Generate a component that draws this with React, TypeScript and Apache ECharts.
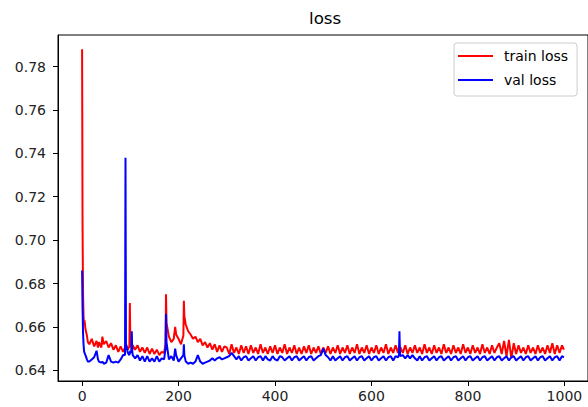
import React, { useEffect, useRef } from "react";
import * as echarts from "echarts";

const epochs = [
  0, 1, 2, 3, 4, 5, 7, 10, 12, 15,
  20, 25, 30, 33, 35, 40, 42, 45, 50, 55,
  60, 65, 70, 75, 80, 85, 89, 90, 91, 95,
  98, 99, 100, 102, 103, 104, 105, 110, 115, 120,
  125, 130, 135, 140, 145, 150, 155, 160, 165, 170,
  173, 174, 175, 180, 185, 190, 193, 195, 200, 205,
  210, 211, 212, 215, 220, 225, 230, 235, 240, 245,
  250, 255, 260, 265, 270, 275, 280, 285, 290, 295,
  300, 305, 310, 315, 320, 325, 330, 335, 340, 345,
  350, 355, 360, 365, 370, 375, 380, 385, 390, 395,
  400, 405, 410, 415, 420, 425, 430, 435, 440, 445,
  450, 455, 460, 465, 470, 475, 480, 485, 490, 495,
  500, 505, 510, 515, 520, 525, 530, 535, 540, 545,
  550, 555, 560, 565, 570, 575, 580, 585, 590, 595,
  600, 605, 610, 615, 620, 625, 630, 635, 640, 645,
  650, 655, 657, 658, 659, 660, 665, 670, 675, 680,
  685, 690, 695, 700, 705, 710, 715, 720, 725, 730,
  735, 740, 745, 750, 755, 760, 765, 770, 775, 780,
  785, 790, 795, 800, 805, 810, 815, 820, 825, 830,
  835, 840, 845, 850, 855, 860, 865, 870, 875, 880,
  885, 890, 895, 900, 905, 910, 915, 920, 925, 930,
  935, 940, 945, 950, 955, 960, 965, 970, 975, 980,
  985, 990, 995, 999,
];

const trainLoss = [
  0.788, 0.705, 0.675, 0.665, 0.661, 0.663, 0.659, 0.656, 0.653, 0.652,
  0.6545, 0.651, 0.6535, 0.6505, 0.653, 0.6505, 0.6555, 0.652, 0.6535, 0.6505,
  0.6525, 0.6495, 0.6515, 0.6485, 0.651, 0.6485, 0.6505, 0.651, 0.652, 0.6495,
  0.651, 0.671, 0.654, 0.6505, 0.652, 0.6495, 0.6515, 0.6495, 0.6515, 0.6485,
  0.6505, 0.648, 0.6505, 0.6475, 0.65, 0.6475, 0.6495, 0.647, 0.6485, 0.648,
  0.652, 0.675, 0.662, 0.6555, 0.653, 0.6545, 0.66, 0.6565, 0.6545, 0.652,
  0.656, 0.672, 0.665, 0.661, 0.658, 0.6565, 0.6545, 0.6555, 0.653, 0.6545,
  0.6515, 0.653, 0.6505, 0.6525, 0.6495, 0.652, 0.6485, 0.6515, 0.6485, 0.651,
  0.6505, 0.6475, 0.652, 0.648, 0.6505, 0.6475, 0.6515, 0.648, 0.651, 0.6475,
  0.6515, 0.648, 0.6505, 0.6475, 0.652, 0.648, 0.6505, 0.6475, 0.651, 0.648,
  0.6515, 0.6475, 0.6505, 0.648, 0.652, 0.6475, 0.6505, 0.648, 0.6515, 0.6475,
  0.6505, 0.6475, 0.651, 0.648, 0.6515, 0.6475, 0.6505, 0.648, 0.651, 0.6475,
  0.6505, 0.648, 0.651, 0.6475, 0.6505, 0.648, 0.6515, 0.6475, 0.6505, 0.648,
  0.6515, 0.6475, 0.6505, 0.648, 0.652, 0.6475, 0.6505, 0.648, 0.6515, 0.6475,
  0.6505, 0.648, 0.6515, 0.6475, 0.6505, 0.648, 0.652, 0.6475, 0.6505, 0.648,
  0.6515, 0.648, 0.6505, 0.6515, 0.648, 0.6505, 0.648, 0.6515, 0.6475, 0.6505,
  0.648, 0.6515, 0.648, 0.6505, 0.6475, 0.652, 0.648, 0.6505, 0.6475, 0.6515,
  0.648, 0.6505, 0.6475, 0.652, 0.648, 0.6505, 0.6475, 0.6515, 0.648, 0.6505,
  0.6475, 0.652, 0.648, 0.6505, 0.6475, 0.6515, 0.648, 0.6505, 0.6475, 0.652,
  0.648, 0.6505, 0.6475, 0.6515, 0.648, 0.6505, 0.6525, 0.6475, 0.6535, 0.6465,
  0.654, 0.6455, 0.6525, 0.6475, 0.6515, 0.648, 0.6505, 0.6475, 0.6515, 0.648,
  0.6505, 0.6475, 0.6515, 0.648, 0.6505, 0.6475, 0.6515, 0.648, 0.6525, 0.6475,
  0.6515, 0.648, 0.6515, 0.6495,
];

const valLoss = [
  0.686, 0.668, 0.657, 0.652, 0.649, 0.648, 0.647, 0.645, 0.644, 0.644,
  0.645, 0.646, 0.649, 0.645, 0.644, 0.6435, 0.644, 0.643, 0.6435, 0.647,
  0.644, 0.6435, 0.644, 0.6435, 0.645, 0.647, 0.647, 0.738, 0.652, 0.648,
  0.647, 0.648, 0.649, 0.648, 0.658, 0.649, 0.647, 0.6455, 0.647, 0.6445,
  0.6465, 0.644, 0.6465, 0.644, 0.6455, 0.644, 0.6465, 0.644, 0.6455, 0.645,
  0.65, 0.666, 0.653, 0.645, 0.6465, 0.6445, 0.65, 0.647, 0.644, 0.6455,
  0.647, 0.652, 0.647, 0.644, 0.643, 0.6435, 0.643, 0.644, 0.647, 0.644,
  0.643, 0.6435, 0.644, 0.6445, 0.6455, 0.6445, 0.6455, 0.646, 0.645, 0.6455,
  0.646, 0.6465, 0.648, 0.6465, 0.645, 0.6465, 0.6445, 0.646, 0.6465, 0.6445,
  0.6455, 0.6465, 0.6445, 0.646, 0.6465, 0.6445, 0.6465, 0.645, 0.6445, 0.6465,
  0.645, 0.6445, 0.6465, 0.646, 0.6445, 0.6455, 0.6465, 0.6445, 0.646, 0.6465,
  0.6445, 0.6455, 0.6465, 0.6445, 0.646, 0.6465, 0.6445, 0.6455, 0.6465, 0.647,
  0.65, 0.647, 0.646, 0.6445, 0.6465, 0.6445, 0.6455, 0.6465, 0.6445, 0.646,
  0.6465, 0.6445, 0.6455, 0.6465, 0.6445, 0.646, 0.6465, 0.6445, 0.6455, 0.6465,
  0.6445, 0.646, 0.6465, 0.6445, 0.6455, 0.6465, 0.6445, 0.646, 0.6465, 0.6445,
  0.6465, 0.646, 0.647, 0.658, 0.648, 0.6465, 0.647, 0.6455, 0.647, 0.6455,
  0.647, 0.6455, 0.6445, 0.6465, 0.6445, 0.646, 0.6465, 0.6445, 0.6455, 0.6465,
  0.6445, 0.646, 0.6465, 0.6445, 0.6455, 0.6465, 0.6445, 0.646, 0.6465, 0.6445,
  0.6455, 0.6465, 0.6445, 0.646, 0.6465, 0.6445, 0.6455, 0.6465, 0.6445, 0.646,
  0.6465, 0.6445, 0.6455, 0.6465, 0.6445, 0.646, 0.6465, 0.6445, 0.6455, 0.6465,
  0.6445, 0.646, 0.6465, 0.6445, 0.6455, 0.6465, 0.6445, 0.646, 0.6465, 0.6445,
  0.6455, 0.6465, 0.6445, 0.646, 0.6465, 0.6445, 0.6455, 0.6465, 0.6445, 0.646,
  0.6465, 0.6445, 0.6465, 0.646,
];

const xTicks = [0, 200, 400, 600, 800, 1000];
const yTicks = [0.64, 0.66, 0.68, 0.7, 0.72, 0.74, 0.76, 0.78];
const seriesNames = ["train loss", "val loss"];
const titleText = "loss";

const FONT = "'DejaVu Sans', sans-serif";

export default function App() {
  const ref = useRef<HTMLDivElement>(null);

  useEffect(() => {
    if (!ref.current) return;
    const chart = echarts.init(ref.current, undefined, { renderer: "svg" });
    const n = Math.min(epochs.length, trainLoss.length, valLoss.length);
    const trainData = [] as number[][];
    const valData = [] as number[][];
    for (let i = 0; i < n; i++) {
      trainData.push([epochs[i], trainLoss[i]]);
      valData.push([epochs[i], valLoss[i]]);
    }
    chart.setOption({
      animation: false,
      backgroundColor: "#ffffff",
      title: {
        text: titleText,
        left: 309,
        top: 9,
        padding: 0,
        textStyle: { fontSize: 16.7, fontWeight: "normal", color: "#000", fontFamily: FONT },
      },
      legend: {
        orient: "vertical",
        left: 454,
        top: 43,
        data: seriesNames,
        icon: "rect",
        itemWidth: 35,
        itemHeight: 2,
        itemGap: 8,
        padding: [5, 9, 8, 4],
        backgroundColor: "rgba(255,255,255,0.8)",
        borderColor: "#cccccc",
        borderWidth: 1,
        borderRadius: 3,
        textStyle: { fontSize: 14, fontFamily: FONT, color: "#000", lineHeight: 16, padding: [0, 0, 0, 6] },
      },
      grid: {
        left: 58,
        top: 35,
        width: 535,
        height: 346,
        show: true,
        borderColor: "#000",
        borderWidth: 1,
        backgroundColor: "transparent",
      },
      xAxis: {
        type: "value",
        min: -49.95,
        max: 1048.95,
        splitNumber: 5,
        splitLine: { show: false },
        axisLine: { show: true, onZero: false, lineStyle: { color: "#000", width: 1 } },
        axisTick: { show: true, length: 5, lineStyle: { color: "#000" }, customValues: xTicks },
        axisLabel: {
          customValues: xTicks,
          formatter: (v: number) => String(Math.round(v)),
          fontSize: 14,
          fontFamily: FONT,
          color: "#222",
          margin: 8,
        },
      },
      yAxis: {
        type: "value",
        min: 0.63506,
        max: 0.79456,
        splitNumber: 8,
        splitLine: { show: false },
        axisLine: { show: true, onZero: false, lineStyle: { color: "#000", width: 1 } },
        axisTick: { show: true, length: 5, lineStyle: { color: "#000" }, customValues: yTicks },
        axisLabel: {
          customValues: yTicks,
          formatter: (v: number) => v.toFixed(2),
          fontSize: 14,
          fontFamily: FONT,
          color: "#222",
          margin: 12,
        },
      },
      series: [
        {
          name: seriesNames[0],
          type: "line",
          data: trainData,
          showSymbol: false,
          symbol: "none",
          color: "#ff0000",
          itemStyle: { color: "#ff0000" },
          lineStyle: { color: "#ff0000", width: 2 },
        },
        {
          name: seriesNames[1],
          type: "line",
          data: valData,
          showSymbol: false,
          symbol: "none",
          color: "#0000ff",
          itemStyle: { color: "#0000ff" },
          lineStyle: { color: "#0000ff", width: 2 },
        },
      ],
    });
    return () => chart.dispose();
  }, []);

  return (
    <div
      ref={ref}
      style={{ position: "absolute", left: 0, top: 0, width: 588, height: 407, overflow: "hidden" }}
    />
  );
}
